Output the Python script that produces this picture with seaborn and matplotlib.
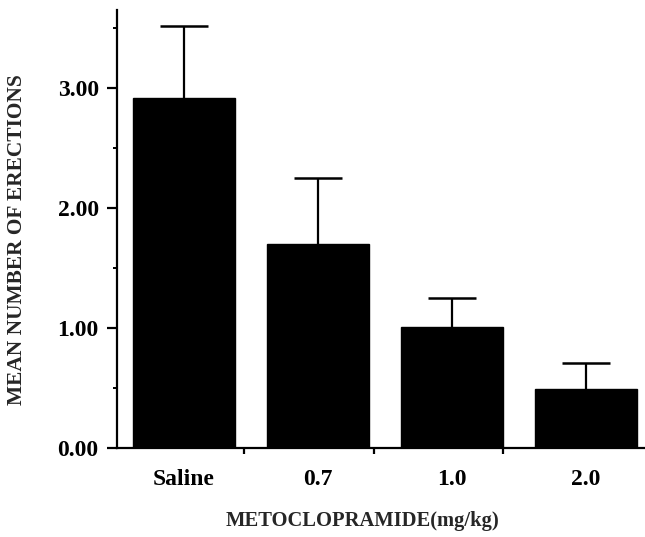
import matplotlib
matplotlib.use("Agg")
import matplotlib.pyplot as plt
from matplotlib.ticker import FixedLocator, MultipleLocator, FormatStrFormatter
import seaborn as sns
import pandas as pd

categories = ["Saline", "0.7", "1.0", "2.0"]
means = [2.92, 1.70, 1.01, 0.49]
errors = [0.60, 0.55, 0.24, 0.22]
y_ticks = [0.0, 1.0, 2.0, 3.0]

sns.set_theme(style="ticks")
plt.rcParams['font.family'] = ['Liberation Serif', 'DejaVu Serif']

df = pd.DataFrame({"dose": categories, "mean": means})

fig = plt.figure(figsize=(6.45, 5.37), dpi=100)
ax = fig.add_axes([0.181, 0.166, 0.819, 0.815])

sns.barplot(data=df, x="dose", y="mean", order=categories, color="black",
            saturation=1, width=0.76, errorbar=None, ax=ax, edgecolor="black")
xs = list(range(len(categories)))
eb = ax.errorbar(xs, means, yerr=[[0] * len(errors), errors], fmt="none",
                 ecolor="black", elinewidth=1.6, capsize=17, capthick=1.8,
                 zorder=1)
caps = eb.lines[1]
if len(caps) == 2:
    caps[0].set_visible(False)

ax.set_xlim(-0.5, 3.44)
ax.set_ylim(0, 3.65)
ax.yaxis.set_major_locator(FixedLocator(y_ticks))
ax.yaxis.set_minor_locator(MultipleLocator(0.5))
ax.yaxis.set_major_formatter(FormatStrFormatter("%.2f"))
ax.xaxis.set_minor_locator(FixedLocator([0.45, 1.42, 2.38]))

for s in ["top", "right"]:
    ax.spines[s].set_visible(False)
for s in ["left", "bottom"]:
    ax.spines[s].set_linewidth(1.6)
    ax.spines[s].set_color("black")

ax.tick_params(axis="y", which="major", length=7, width=1.6, pad=6,
               labelsize=17, colors="black")
ax.tick_params(axis="y", which="minor", length=3, width=1.4, colors="black")
ax.tick_params(axis="x", which="major", length=0, pad=15, labelsize=17,
               colors="black")
ax.tick_params(axis="x", which="minor", length=4, width=1.6, colors="black")
for lab in ax.get_xticklabels() + ax.get_yticklabels():
    lab.set_fontweight("bold")

ax.set_xlabel("METOCLOPRAMIDE(mg/kg)", fontsize=14.8, fontweight="bold")
ax.set_ylabel("MEAN NUMBER OF ERECTIONS", fontsize=15.4, fontweight="bold")
ax.xaxis.set_label_coords(0.465, -0.145)
ax.yaxis.set_label_coords(-0.17, 0.475)

fig.savefig("out.png", dpi=100)
